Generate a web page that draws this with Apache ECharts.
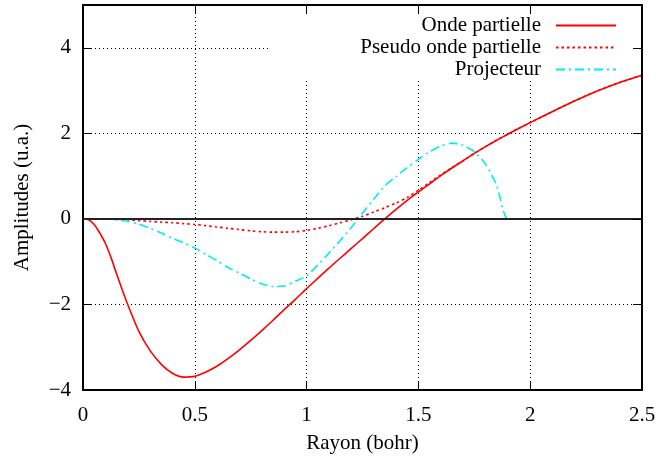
<!DOCTYPE html>
<html><head><meta charset="utf-8">
<script src="https://cdn.jsdelivr.net/npm/echarts@6/dist/echarts.min.js"></script>
<style>html,body{margin:0;padding:0;background:#fff}#c{width:660px;height:459px}</style>
</head><body><div id="c"></div>
<script>
const radius = [0, 0.025, 0.05, 0.075, 0.1, 0.125, 0.15, 0.175, 0.2, 0.25, 0.3, 0.35, 0.4, 0.45, 0.5, 0.55, 0.6, 0.65, 0.7, 0.75, 0.8, 0.85, 0.9, 0.95, 1.0, 1.05, 1.1, 1.15, 1.2, 1.25, 1.3, 1.35, 1.4, 1.45, 1.5, 1.55, 1.6, 1.65, 1.7, 1.75, 1.8, 1.85, 1.9, 1.95, 2.0, 2.1, 2.2, 2.3, 2.4, 2.5];
const ondePartielle = [0, -0.02, -0.13, -0.33, -0.57, -0.9, -1.28, -1.65, -2.0, -2.63, -3.08, -3.4, -3.61, -3.7, -3.68, -3.58, -3.44, -3.26, -3.06, -2.84, -2.61, -2.37, -2.12, -1.88, -1.63, -1.39, -1.15, -0.92, -0.69, -0.46, -0.23, 0.0, 0.22, 0.43, 0.63, 0.82, 1.01, 1.19, 1.36, 1.53, 1.69, 1.84, 1.98, 2.12, 2.25, 2.51, 2.76, 2.99, 3.19, 3.36];
const pseudoOnde = [0, 0, 0, -0.002, -0.005, -0.008, -0.012, -0.016, -0.02, -0.04, -0.06, -0.075, -0.09, -0.11, -0.13, -0.16, -0.19, -0.22, -0.25, -0.28, -0.3, -0.31, -0.31, -0.3, -0.27, -0.22, -0.16, -0.09, -0.02, 0.06, 0.16, 0.26, 0.37, 0.5, 0.67, 0.85, 1.03, 1.2, 1.36, 1.53, 1.69, 1.84, 1.98, 2.12, 2.25, 2.51, 2.76, 2.99, 3.19, 3.36];
const projecteur = [0, 0, 0, 0, -0.005, -0.01, -0.02, -0.04, -0.06, -0.12, -0.22, -0.33, -0.45, -0.56, -0.68, -0.83, -0.98, -1.14, -1.27, -1.4, -1.52, -1.58, -1.57, -1.46, -1.33, -1.08, -0.8, -0.51, -0.2, 0.13, 0.46, 0.77, 0.99, 1.2, 1.39, 1.57, 1.7, 1.77, 1.72, 1.57, 1.28, 0.78, 0.0, 0, 0, 0, 0, 0, 0, 0];
const seriesNames = ['Onde partielle', 'Pseudo onde partielle', 'Projecteur'];
const xTickLabels = [0, 0.5, 1, 1.5, 2, 2.5];
const yTickLabels = [-4, -2, 0, 2, 4];
const xTitle = 'Rayon (bohr)';
const yTitle = 'Amplitudes (u.a.)';

const pairs = (ys) => radius.map((r, i) => [r, ys[i]]);
const font = 'Liberation Serif';
const fmt = (v) => String(v).replace('-', '\u2212');

const chart = echarts.init(document.getElementById('c'), null, {renderer: 'canvas'});
const axisCommon = {
  axisLine: {show: true, onZero: false, lineStyle: {color: '#000', width: 2}},
  axisTick: {show: true, inside: true, length: 9, lineStyle: {color: '#000', width: 1}},
};
chart.setOption({
  animation: false,
  backgroundColor: '#fff',
  textStyle: {fontFamily: font, color: '#000'},
  grid: {left: 83, right: 18, top: 5, bottom: 69, containLabel: false},
  legend: {
    data: seriesNames,
    orient: 'vertical',
    right: 28, top: 5,
    padding: [10, 15, 0, 5],
    itemGap: 1,
    itemWidth: 60, itemHeight: 14,
    align: 'right',
    backgroundColor: '#fff',
    z: 1,
    selectedMode: false,
    itemStyle: {opacity: 0},
    textStyle: {fontFamily: font, fontSize: 21, color: '#000', width: 265, align: 'right', padding: [0, 10, 0, 0], lineHeight: 21}
  },
  xAxis: [{
    type: 'value', min: 0, max: 2.5, interval: 0.5, position: 'bottom',
    ...axisCommon,
    axisLabel: {margin: 15, fontSize: 21, color: '#000', fontFamily: font,
      formatter: (v) => xTickLabels.includes(v) ? fmt(v) : ''},
    splitLine: {show: true, lineStyle: {color: '#000', width: 1, type: [1, 3]}},
    name: xTitle, nameLocation: 'middle', nameGap: 43,
    nameTextStyle: {fontSize: 21, color: '#000', fontFamily: font}
  }, {
    type: 'value', min: 0, max: 2.5, interval: 0.5, position: 'top', z: 5,
    ...axisCommon,
    axisLabel: {show: false}, splitLine: {show: false}
  }],
  yAxis: [{
    type: 'value', min: -4, max: 5, interval: 2, position: 'left',
    ...axisCommon,
    axisLabel: {margin: 12, fontSize: 21, color: '#000', fontFamily: font,
      formatter: (v) => yTickLabels.includes(v) ? fmt(v) : ''},
    splitLine: {show: true, lineStyle: {color: '#000', width: 1, type: [1, 3]}},
    name: yTitle, nameLocation: 'middle', nameGap: 50, nameRotate: 90,
    nameTextStyle: {fontSize: 21, color: '#000', fontFamily: font}
  }, {
    type: 'value', min: -4, max: 5, interval: 2, position: 'right', z: 5,
    ...axisCommon,
    axisLabel: {show: false}, splitLine: {show: false}
  }],
  series: [{
    name: seriesNames[0], type: 'line', data: pairs(ondePartielle),
    symbol: 'none', smooth: 0.25,
    lineStyle: {color: '#ff0000', width: 1.6, type: 'solid'},
    itemStyle: {color: '#ff0000'},
    markLine: {silent: true, symbol: ['none', 'none'], label: {show: false},
      lineStyle: {color: '#222', width: 2, type: 'solid'}, data: [{yAxis: 0}]}
  }, {
    name: seriesNames[1], type: 'line', data: pairs(pseudoOnde),
    symbol: 'none', smooth: 0.25,
    lineStyle: {color: '#ff0000', width: 1.6, type: [2.5, 3]},
    itemStyle: {color: '#ff0000'}
  }, {
    name: seriesNames[2], type: 'line', data: pairs(projecteur),
    symbol: 'none', smooth: 0.25,
    lineStyle: {color: '#00eeee', width: 1.6, type: [9, 4, 2, 4]},
    itemStyle: {color: '#00eeee'}
  }]
});
</script></body></html>
